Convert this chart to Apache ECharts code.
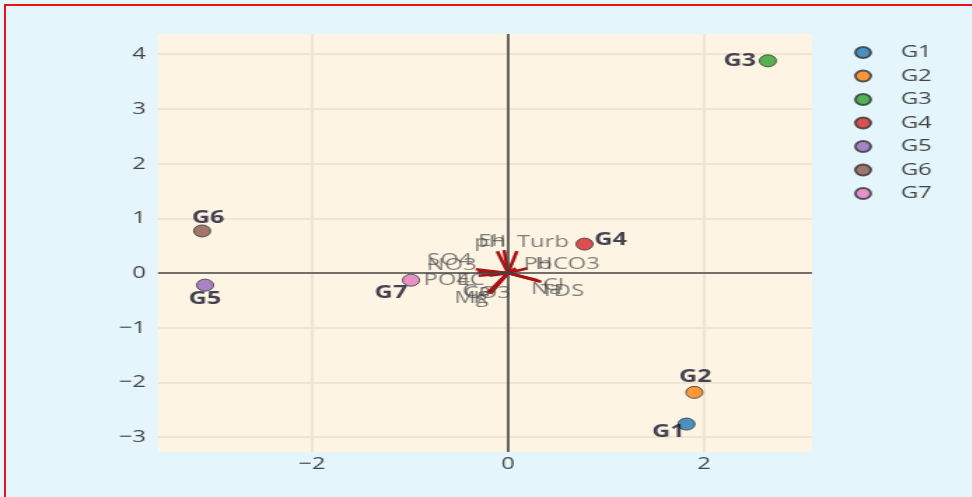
<!DOCTYPE html>
<html>
<head>
<meta charset="utf-8">
<script src="https://cdn.jsdelivr.net/npm/echarts@6/dist/echarts.min.js"></script>
<style>
  html, body { margin: 0; padding: 0; background: #e4f6fb; overflow: hidden; }
  #chart { position: absolute; left: 0; top: 0; height: 497px; transform-origin: 0 0; }
  #frame { position: absolute; left: 4px; top: 4px; width: 2000px; height: 2000px;
           border-left: 2px solid #ee1111; border-top: 2px solid #ee1111; pointer-events: none; }
</style>
</head>
<body>
<div id="chart"></div>
<div id="frame"></div>
<script>
// ---- data ----
const groups = ['G1', 'G2', 'G3', 'G4', 'G5', 'G6', 'G7'];
const pc1 = [1.82, 1.90, 2.65, 0.78, -3.09, -3.12, -0.99];
const pc2 = [-2.76, -2.18, 3.88, 0.53, -0.22, 0.77, -0.13];
const groupColors = ['#1f77b4', '#ff7f0e', '#2ca02c', '#d62728', '#9467bd', '#8c564b', '#e377c2'];

const loadNames = ['pH', 'Eh', 'Turb', 'SO4', 'NO3', 'PO4', 'EC', 'Pb', 'HCO3', 'Na', 'Cl', 'TDS', 'CO3', 'Ca', 'Mg', 'K'];
const loadX = [-0.11, -0.04, 0.09, -0.33, -0.31, -0.30, -0.19, 0.08, 0.20, 0.30, 0.32, 0.34, -0.16, -0.20, -0.21, -0.18];
const loadY = [0.40, 0.42, 0.40, 0.07, 0.02, -0.05, -0.05, 0.09, 0.09, -0.13, -0.15, -0.16, -0.29, -0.35, -0.37, -0.38];

const xTicks = [-2, 0, 2];
const yTicks = [-3, -2, -1, 0, 1, 2, 3, 4];

// ---- styling ----
// the reference is horizontally stretched; draw narrower and stretch with CSS
const S = 1.4;
const W = 972 / S;
const el = document.getElementById('chart');
el.style.width = W + 'px';
el.style.transform = 'scaleX(' + S + ')';

const sx = v => v / S;
const groupLabelOffsets = [[-18, 8], [1, -15], [-28, 0], [26, -4], [0, 14], [6, -13], [-20, 13]]
  .map(o => [sx(o[0]), o[1]]);
const loadLabelOffsets = [[-7, -9], [-12, -9], [26, -9], [-26, -9], [-26, -7], [-32, 4], [-19, 4], [22, -4], [40, -4],
                          [9, 9], [14, 4], [21, 9], [-5, 4], [-12, -1], [-16, 5], [-10, 4]]
  .map(o => [sx(o[0]), o[1]]);

const FONT = '"Open Sans", "DejaVu Sans", sans-serif';
const minus = v => String(v).replace('-', '\u2212');

const series = [];

// grid lines and zero lines
series.push({
  type: 'line', data: [], silent: true, z: 1,
  markLine: {
    silent: true, symbol: 'none', label: { show: false },
    lineStyle: { color: '#ebe0cd', width: 1.5, type: 'solid' },
    data: xTicks.filter(v => v !== 0).map(v => ({ xAxis: v }))
      .concat(yTicks.filter(v => v !== 0).map(v => ({ yAxis: v })))
  }
});
series.push({
  type: 'line', data: [], silent: true, z: 2,
  markLine: {
    silent: true, symbol: 'none', label: { show: false },
    lineStyle: { color: '#444', width: 1.6, type: 'solid' },
    data: [{ xAxis: 0 }, { yAxis: 0 }]
  }
});

// loading vectors
loadNames.forEach((n, i) => {
  series.push({
    type: 'line', silent: true, z: 3, symbol: 'none',
    lineStyle: { color: '#a81414', width: 2.6 },
    data: [[0, 0], [loadX[i], loadY[i]]]
  });
});
series.push({
  type: 'scatter', silent: true, z: 4, symbolSize: 0,
  data: loadNames.map((n, i) => ({
    value: [loadX[i], loadY[i]], name: n,
    label: { show: true, position: 'inside', offset: loadLabelOffsets[i], formatter: n,
             color: 'rgba(70,70,70,0.85)', fontSize: 17, fontFamily: FONT }
  }))
});

// group points
groups.forEach((g, i) => {
  series.push({
    name: g, type: 'scatter', z: 5, symbol: 'circle', symbolSize: 12,
    itemStyle: { color: groupColors[i], borderColor: '#333', borderWidth: 1 },
    label: { show: true, position: 'inside', offset: groupLabelOffsets[i], formatter: g,
             color: '#15152a', fontSize: 18, fontWeight: 'bold', fontFamily: FONT },
    data: [[pc1[i], pc2[i]]]
  });
});

const chart = echarts.init(el, null, { width: W, height: 497 });
chart.setOption({
  animation: false,
  backgroundColor: 'transparent',
  grid: { left: sx(158), right: sx(160), top: 34, bottom: 45, show: true, backgroundColor: '#fdf4e4', borderWidth: 0 },
  xAxis: {
    type: 'value', min: -3.57, max: 3.10,
    axisLine: { show: false }, axisTick: { show: false }, splitLine: { show: false },
    axisLabel: { customValues: xTicks, formatter: minus, color: '#444', fontSize: 17, fontFamily: FONT, margin: 4 }
  },
  yAxis: {
    type: 'value', min: -3.27, max: 4.37,
    axisLine: { show: false }, axisTick: { show: false }, splitLine: { show: false },
    axisLabel: { customValues: yTicks, formatter: minus, color: '#444', fontSize: 17, fontFamily: FONT, margin: sx(12) }
  },
  legend: {
    orient: 'vertical', left: sx(847), top: 39,
    data: groups, icon: 'circle', itemWidth: 12, itemHeight: 11, itemGap: 6.5,
    textStyle: { color: '#444', fontSize: 17, fontFamily: FONT, padding: [0, 0, 0, 16] }
  },
  series: series
});
</script>
</body>
</html>
